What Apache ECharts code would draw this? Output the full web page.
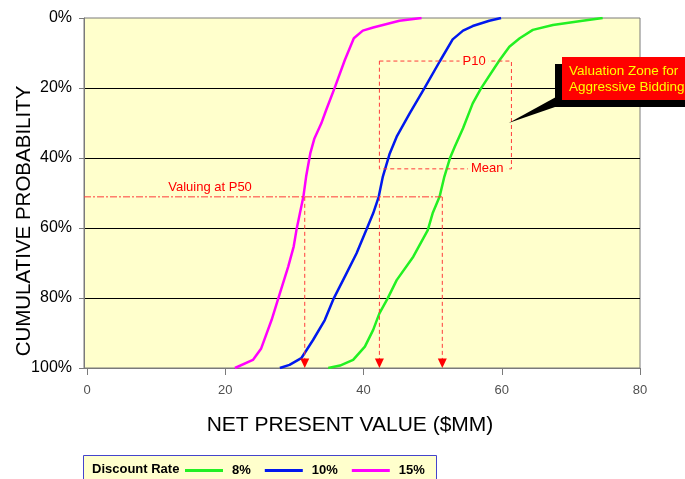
<!DOCTYPE html>
<html>
<head>
<meta charset="utf-8">
<script src="https://cdn.jsdelivr.net/npm/echarts@6/dist/echarts.min.js"></script>
<style>
html,body{margin:0;padding:0;background:#fff;}
#chart{width:685px;height:479px;}
</style>
</head>
<body>
<div id="chart"></div>
<script>
// ---- Data ----
const seriesNames = ['8%', '10%', '15%'];
const netValue8 = [74.6,71.7,67.4,64.5,62.6,61.1,59.7,57.0,55.8,54.4,53.2,52.5,51.7,51.0,50.0,49.3,47.2,44.8,43.5,42.3,41.4,40.2,38.5,36.6,34.9];
const prob8     = [0,0.8,2.0,3.4,5.8,8.2,12,20.1,24.4,31.5,36.8,40.1,45.3,51.1,55.8,60.6,68.2,74.9,80.1,84.4,89.1,93.9,97.7,99.3,100];
const netValue10 = [59.9,58.2,55.8,54.4,52.9,51.0,48.8,46.7,44.8,43.8,42.8,42.2,41.4,40.4,39.0,37.3,35.7,34.4,32.7,31.0,29.3,27.9];
const prob10     = [0,0.8,2.3,3.6,6.1,12.5,20.1,27.2,33.9,38.7,45.3,51.1,55.8,60.6,67.2,73.9,80.1,86.3,92.0,97.2,99.1,100];
const netValue15 = [48.4,45.2,41.4,39.9,38.6,37.3,35.8,34.6,33.9,32.9,32.3,31.7,31.3,30.8,30.3,29.9,29.1,27.9,26.7,25.2,24.0,21.4];
const prob15     = [0,0.8,2.7,3.6,5.8,12,20.1,26.3,30.1,34.4,38.7,45.3,51.1,55.8,60.6,65.3,71.1,78.7,86.3,94.4,97.7,100];
const xTicks = [0, 20, 40, 60, 80];

// annotations (data units)
const p50Level = 51.1;
const p50Values = [31.5, 42.3, 51.4];
const p50LabelAt = 17.8;
const zoneRange = [42.3, 61.4];
const zoneP10 = 12.3;
const zoneMean = 43.1;
const p10LabelAt = 56.0;
const meanLabelAt = 57.9;
const calloutTip = [61.0, 30];

const FONT = '"Liberation Sans", Arial, sans-serif';
const colors = ['#22f022', '#0018ee', '#ff00ff'];

function pairs(xs, ys) { return xs.map((x, i) => [x, ys[i]]); }

const chart = echarts.init(document.getElementById('chart'), null, {renderer: 'canvas'});

const option = {
  animation: false,
  textStyle: {fontFamily: FONT},
  grid: {
    left: 84, right: 45, top: 18, bottom: 111,
    show: true, backgroundColor: '#ffffcc', borderColor: '#7a7a7a', borderWidth: 1
  },
  xAxis: {
    type: 'value', min: -0.434, max: 80,
    axisLine: {show: true, onZero: false, lineStyle: {color: '#7a7a7a', width: 1}},
    axisTick: {show: true, customValues: xTicks, length: 7, lineStyle: {color: '#7a7a7a'}},
    axisLabel: {show: true, customValues: xTicks, margin: 16, fontSize: 13, color: '#505050', fontFamily: FONT},
    splitLine: {show: false}
  },
  yAxis: {
    type: 'value', inverse: true, min: 0, max: 100, interval: 20,
    axisLine: {show: true, onZero: false, lineStyle: {color: '#7a7a7a', width: 1}},
    axisTick: {show: true, length: 5, lineStyle: {color: '#7a7a7a'}},
    axisLabel: {margin: 12, fontSize: 16, color: '#000', fontFamily: FONT, formatter: '{value}%'},
    splitLine: {show: true, showMinLine: false, showMaxLine: false, lineStyle: {color: '#000', width: 1}}
  },
  legend: {
    data: seriesNames,
    left: 185, top: 464, padding: 0,
    icon: 'rect',
    itemWidth: 38, itemHeight: 3, itemGap: 14,
    textStyle: {fontSize: 13, fontWeight: 'bold', color: '#000', fontFamily: FONT, padding: [0, 0, 0, 4]}
  },
  series: [
    {name: seriesNames[0], type: 'line', data: pairs(netValue8, prob8), showSymbol: false, symbol: 'none', color: colors[0], lineStyle: {width: 2.5, color: colors[0]}, z: 2},
    {name: seriesNames[1], type: 'line', data: pairs(netValue10, prob10), showSymbol: false, symbol: 'none', color: colors[1], lineStyle: {width: 2.5, color: colors[1]}, z: 2},
    {name: seriesNames[2], type: 'line', data: pairs(netValue15, prob15), showSymbol: false, symbol: 'none', color: colors[2], lineStyle: {width: 2.5, color: colors[2]}, z: 2}
  ]
};
chart.setOption(option);

function px(x, y) { return chart.convertToPixel({gridIndex: 0}, [x, y]); }

const dashRed = '#ff3b3b';
const g = [];
// P50 horizontal dash-dot line
const pStart = px(-0.434, p50Level), pEnd = px(Math.max(...p50Values) + 0.2, p50Level);
g.push({type: 'line', z: 3, shape: {x1: pStart[0], y1: pStart[1], x2: pEnd[0], y2: pEnd[1]},
  style: {stroke: dashRed, lineWidth: 1, lineDash: [7, 2, 2, 2]}});
const lbl = px(p50LabelAt, p50Level);
g.push({type: 'text', z: 4, x: lbl[0], y: lbl[1] - 3,
  style: {text: 'Valuing at P50', fill: '#ff0000', font: '13px ' + FONT, align: 'center', verticalAlign: 'bottom'}});
// arrows
p50Values.forEach(v => {
  const a = px(v, p50Level), b = px(v, 100);
  g.push({type: 'line', z: 3, shape: {x1: a[0], y1: a[1], x2: b[0], y2: b[1] - 9},
    style: {stroke: dashRed, lineWidth: 1, lineDash: [4, 3]}});
  g.push({type: 'polygon', z: 4, shape: {points: [[b[0] - 4.5, b[1] - 9.5], [b[0] + 4.5, b[1] - 9.5], [b[0], b[1]]]},
    style: {fill: '#ff0000'}});
});
// zone box
const tl = px(zoneRange[0], zoneP10), br = px(zoneRange[1], zoneMean);
g.push({type: 'rect', z: 3, shape: {x: tl[0], y: tl[1], width: br[0] - tl[0], height: br[1] - tl[1]},
  style: {fill: null, stroke: dashRed, lineWidth: 1, lineDash: [4, 3]}});
const p10 = px(p10LabelAt, zoneP10), mn = px(meanLabelAt, zoneMean);
g.push({type: 'text', z: 4, x: p10[0], y: p10[1],
  style: {text: 'P10', fill: '#ff0000', font: '13px ' + FONT, align: 'center', verticalAlign: 'middle', backgroundColor: '#ffffcc', padding: [0, 3]}});
g.push({type: 'text', z: 4, x: mn[0], y: mn[1],
  style: {text: 'Mean', fill: '#ff0000', font: '13px ' + FONT, align: 'center', verticalAlign: 'middle', backgroundColor: '#ffffcc', padding: [0, 3]}});
// callout
const tip = px(calloutTip[0], calloutTip[1]);
g.push({type: 'polygon', z: 5, shape: {points: [[556, 97], [tip[0], tip[1]], [555, 107]]}, style: {fill: '#000'}});
g.push({type: 'rect', z: 5, shape: {x: 555, y: 64, width: 140, height: 43}, style: {fill: '#000'}});
g.push({type: 'rect', z: 6, shape: {x: 562, y: 57, width: 140, height: 43}, style: {fill: '#ff0000'}});
g.push({type: 'text', z: 7, x: 569, y: 71, style: {text: 'Valuation Zone for', fill: '#ffff00', font: '13.5px ' + FONT, verticalAlign: 'middle'}});
g.push({type: 'text', z: 7, x: 569, y: 87, style: {text: 'Aggressive Bidding', fill: '#ffff00', font: '13.5px ' + FONT, verticalAlign: 'middle'}});
// axis titles
g.push({type: 'text', z: 4, x: 24, y: 221, rotation: Math.PI / 2,
  style: {text: 'CUMULATIVE PROBABILITY', fill: '#000', font: '20.5px ' + FONT, align: 'center', verticalAlign: 'middle'}});
g.push({type: 'text', z: 4, x: 350, y: 425,
  style: {text: 'NET PRESENT VALUE ($MM)', fill: '#000', font: '21px ' + FONT, align: 'center', verticalAlign: 'middle'}});
// legend box
g.push({type: 'rect', z: -1, shape: {x: 83.5, y: 455.5, width: 353, height: 30}, style: {fill: '#ffffcc', stroke: '#4444cc', lineWidth: 1}});
g.push({type: 'text', z: 4, x: 92, y: 469, style: {text: 'Discount Rate', fill: '#000', font: 'bold 13px ' + FONT, verticalAlign: 'middle'}});

chart.setOption({graphic: g});
</script>
</body>
</html>
